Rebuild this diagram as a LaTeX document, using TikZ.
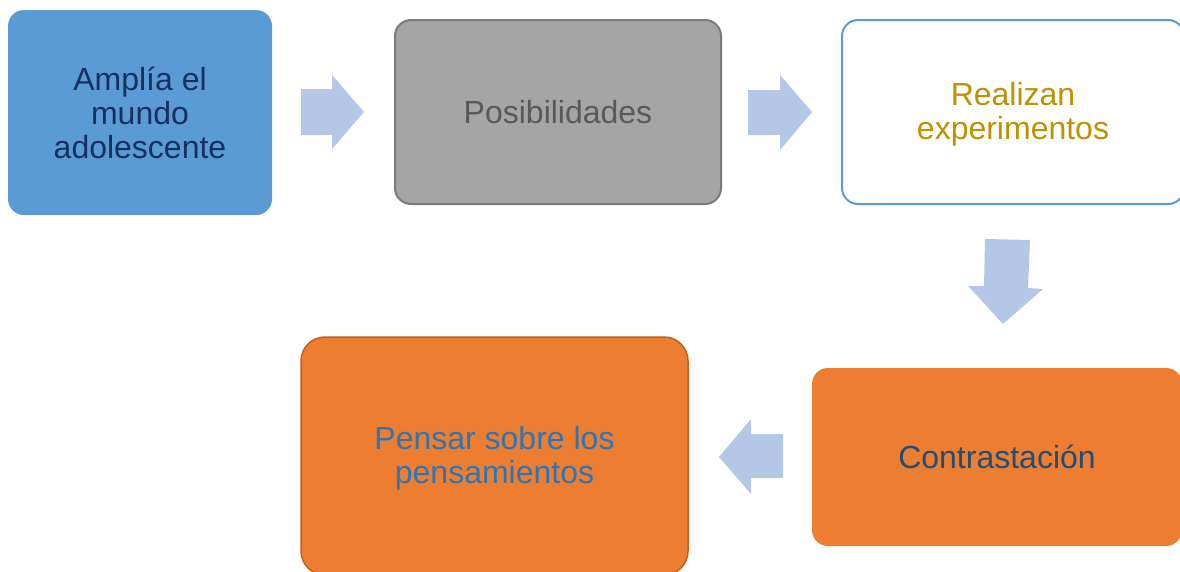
\documentclass[tikz,border=0pt]{standalone}
\usepackage{fontspec}
\setmainfont{Liberation Sans}
\usepackage{tikz}
\usetikzlibrary{shapes}

\definecolor{stepblue}{HTML}{5B9BD5}
\definecolor{navytext}{HTML}{15315F}
\definecolor{stepgray}{HTML}{A5A5A5}
\definecolor{graydraw}{HTML}{7A7A7A}
\definecolor{graytext}{HTML}{595959}
\definecolor{goldtext}{HTML}{BF9000}
\definecolor{steporange}{HTML}{ED7D31}
\definecolor{orangedraw}{HTML}{C0601F}
\definecolor{bluetext}{HTML}{2E75B6}
\definecolor{darkbluetext}{HTML}{1F4E79}
\definecolor{arrowblue}{HTML}{B4C7E7}

\begin{document}
\begin{tikzpicture}[x=1pt, y=-1pt,
    box/.style={rectangle, rounded corners=16pt, align=center, inner sep=0pt,
        font=\fontsize{32}{34}\selectfont},
    blockarrow/.style={fill=arrowblue, draw=none}]

            \useasboundingbox (0,0) rectangle (1180,571);

            \node[box, fill=stepblue, text=navytext, minimum width=264pt, minimum height=205pt]
                (mundo) at (140,112.5) {Amplía el\\mundo\\adolescente};
            \node[box, fill=stepgray, draw=graydraw, line width=2pt, text=graytext,
                minimum width=326pt, minimum height=184pt]
                (posib) at (558,112) {Posibilidades};
            \node[box, fill=white, draw=stepblue, line width=2pt, text=goldtext,
                minimum width=342pt, minimum height=184pt]
                (exper) at (1013,112) {};
            \node[font=\fontsize{32}{34}\selectfont, align=center, text=goldtext, inner sep=0pt]
                (experlabel) at (1013,114.5) {Realizan\\experimentos};
            \node[box, fill=steporange, text=darkbluetext, minimum width=370pt, minimum height=178pt]
                (contr) at (997,457) {Contrastación};
            \node[box, rounded corners=24pt, fill=steporange, draw=orangedraw, line width=1.5pt,
                text=bluetext, minimum width=387pt, minimum height=238pt]
                (pensar) at (494.5,456) {};
            \node[font=\fontsize{32}{34}\selectfont, align=center, text=bluetext, inner sep=0pt]
                (pensarlabel) at (494.5,458.5) {Pensar sobre los\\pensamientos};

            \fill[blockarrow] (301,89)--(332,89)--(332,75)--(364,112)--(332,149)--(332,135)--(301,135)--cycle;
            \fill[blockarrow] (748,90)--(780,90)--(780,75)--(812,112)--(780,150)--(780,135)--(748,135)--cycle;
            \fill[blockarrow] (985,239)--(1030,240)--(1028,288)--(1043,289)--(1003,324)--(968,286)--(984,286)--cycle;
            \fill[blockarrow] (783,434)--(751,434)--(751,419)--(719,457)--(751,494)--(751,478)--(783,478)--cycle;

        \end{tikzpicture}
\end{document}
